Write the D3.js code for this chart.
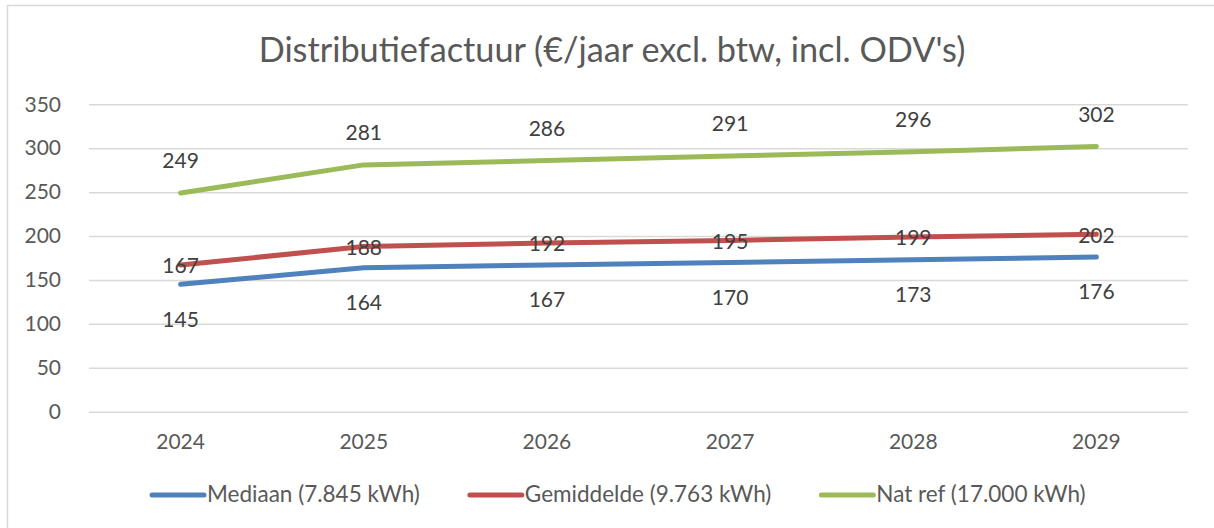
<!DOCTYPE html>
<html>
<head>
<meta charset="utf-8">
<script src="https://cdn.jsdelivr.net/npm/d3@7"></script>
<style>
    body { margin: 0; background: #fff; }
    svg { display: block; font-family: Lato, 'Open Sans', sans-serif; }
</style>
</head>
<body>
<div id="chart"></div>
<script>
// Data
const years = ['2024', '2025', '2026', '2027', '2028', '2029'];
const mediaan = [145, 164, 167, 170, 173, 176];
const gemiddelde = [167, 188, 192, 195, 199, 202];
const natRef = [249, 281, 286, 291, 296, 302];
const yTicks = [0, 50, 100, 150, 200, 250, 300, 350];
const seriesNames = ['Mediaan (7.845 kWh)', 'Gemiddelde (9.763 kWh)', 'Nat ref (17.000 kWh)'];
const titleText = "Distributiefactuur (€/jaar excl. btw, incl. ODV's)";

const chart = {
    totalWidth: 1214,
    totalHeight: 528,
    margin: { top: 104.3, left: 89, right: 26, bottom: 116.3 }
};
chart.width = chart.totalWidth - chart.margin.left - chart.margin.right;
chart.height = chart.totalHeight - chart.margin.top - chart.margin.bottom;

const series = [
    { name: seriesNames[0], values: mediaan, color: '#4f81bd', labelDy: 35 },
    { name: seriesNames[1], values: gemiddelde, color: '#c0504d', labelDy: 1 },
    { name: seriesNames[2], values: natRef, color: '#9bbb59', labelDy: -32 }
];

const numFont = '21px';

const svg = d3.select('#chart')
    .append('svg')
    .attr('width', chart.totalWidth)
    .attr('height', chart.totalHeight);

// Chart border
svg.append('rect')
    .attr('x', 7.5).attr('y', 5.5)
    .attr('width', 1230).attr('height', 540)
    .attr('fill', '#fff')
    .attr('stroke', '#d9d9d9')
    .attr('stroke-width', 1.5);

// Title, fitted to the width in the picture
const title = svg.append('text')
    .attr('x', 612)
    .attr('y', 62)
    .attr('text-anchor', 'middle')
    .attr('fill', '#595959')
    .style('font-size', '32px')
    .text(titleText);
const tw = title.node().getComputedTextLength();
title.style('font-size', (32 * 707 / tw) + 'px');

const g = svg.append('g')
    .attr('transform', `translate(${chart.margin.left}, ${chart.margin.top})`);

// Scales
const xScale = d3.scaleBand()
    .domain(years)
    .range([0, chart.width]);

const yScale = d3.scaleLinear()
    .domain([0, 350])
    .range([chart.height, 0]);

// Y-axis with gridlines
const yAxis = d3.axisLeft(yScale)
    .tickValues(yTicks)
    .tickSize(-chart.width)
    .tickPadding(28);

g.append('g')
    .classed('y-axis', true)
    .call(yAxis)
    .call(a => a.select('.domain').remove())
    .call(a => a.selectAll('line').attr('stroke', '#d9d9d9').attr('stroke-width', 1.5))
    .call(a => a.selectAll('text')
        .attr('fill', '#595959')
        .style('font-size', numFont)
        .style('font-family', 'Lato, sans-serif'));

// X-axis labels
const xAxis = d3.axisBottom(xScale)
    .tickSize(0)
    .tickPadding(22);

g.append('g')
    .classed('x-axis', true)
    .attr('transform', `translate(0, ${chart.height})`)
    .call(xAxis)
    .call(a => a.select('.domain').remove())
    .call(a => a.selectAll('text')
        .attr('fill', '#595959')
        .style('font-size', numFont)
        .style('font-family', 'Lato, sans-serif'));

// Lines
const line = d3.line()
    .x((d, i) => xScale(years[i]) + xScale.bandwidth() / 2)
    .y(d => yScale(d));

g.append('g')
    .classed('lines', true)
    .selectAll('path')
    .data(series)
    .enter()
    .append('path')
    .attr('d', d => line(d.values))
    .attr('fill', 'none')
    .attr('stroke', d => d.color)
    .attr('stroke-width', 5)
    .attr('stroke-linecap', 'round')
    .attr('stroke-linejoin', 'round');

// Data labels
series.forEach(s => {
    g.append('g')
        .classed('labels', true)
        .selectAll('text')
        .data(s.values)
        .enter()
        .append('text')
        .attr('x', (d, i) => xScale(years[i]) + xScale.bandwidth() / 2)
        .attr('y', d => yScale(d) + s.labelDy)
        .attr('dy', '0.35em')
        .attr('text-anchor', 'middle')
        .attr('fill', '#404040')
        .style('font-size', numFont)
        .text(d => d);
});

// Legend, font fitted so the first entry is as wide as in the picture
const legend = svg.append('g').classed('legend', true);
const probe = legend.append('text').style('font-size', '20px').text(seriesNames[0]);
const legendSize = 20 * 213 / probe.node().getComputedTextLength();
probe.remove();

let lx = 150;
series.forEach(s => {
    legend.append('line')
        .attr('x1', lx + 2).attr('x2', lx + 54)
        .attr('y1', 495).attr('y2', 495)
        .attr('stroke', s.color)
        .attr('stroke-width', 5)
        .attr('stroke-linecap', 'round');
    const t = legend.append('text')
        .attr('x', lx + 57)
        .attr('y', 502)
        .attr('fill', '#595959')
        .style('font-size', legendSize + 'px')
        .text(s.name);
    lx += 57 + t.node().getComputedTextLength() + 48;
});
</script>
</body>
</html>
